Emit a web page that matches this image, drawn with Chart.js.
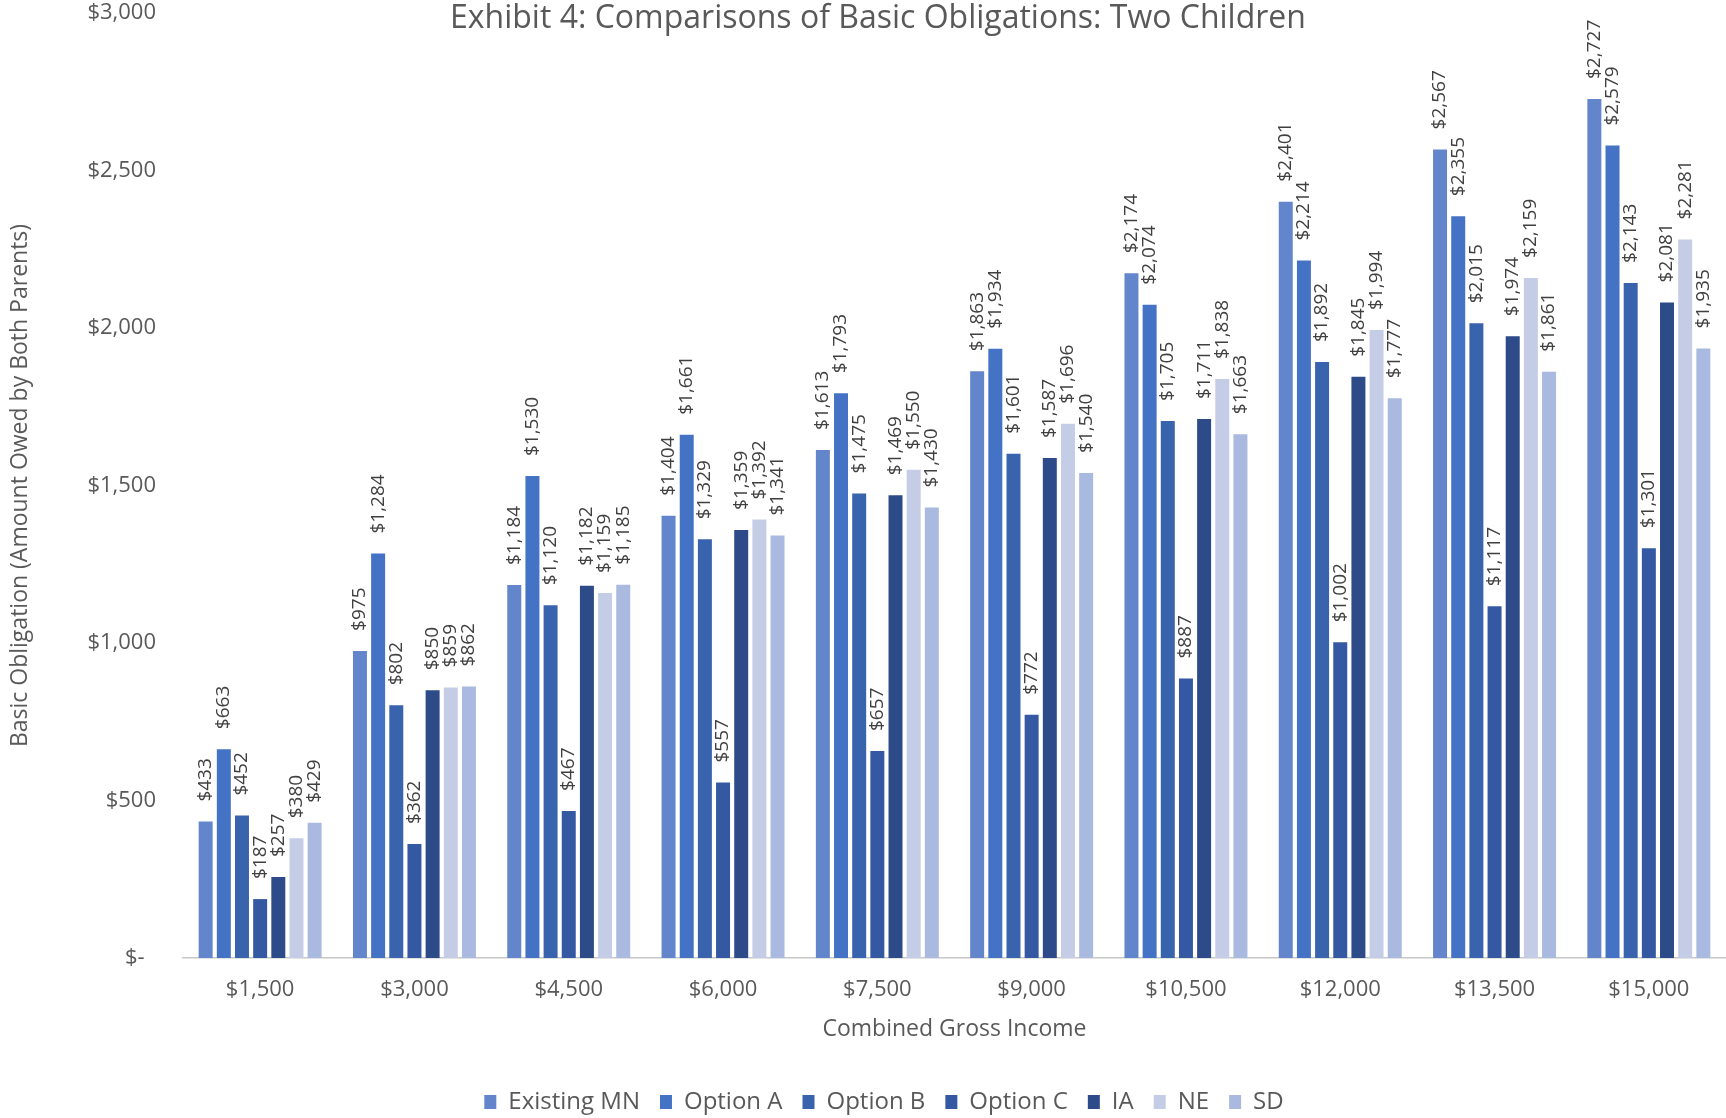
<!DOCTYPE html>
<html>
<head>
<meta charset="utf-8">
<script src="https://cdn.jsdelivr.net/npm/chart.js@4.4.1/dist/chart.umd.min.js"></script>
<style>
  html, body { margin: 0; padding: 0; background: #ffffff; }
  #wrap { width: 1726px; height: 1118px; position: relative; }
</style>
</head>
<body>
<div id="wrap"><canvas id="c" width="1726" height="1118"></canvas></div>
<script>
const chartTitle = 'Exhibit 4: Comparisons of Basic Obligations: Two Children';
const xAxisTitle = 'Combined Gross Income';
const yAxisTitle = 'Basic Obligation (Amount Owed by Both Parents)';
const categories = ['$1,500', '$3,000', '$4,500', '$6,000', '$7,500', '$9,000', '$10,500', '$12,000', '$13,500', '$15,000'];
const seriesNames = ['Existing MN', 'Option A', 'Option B', 'Option C', 'IA', 'NE', 'SD'];
const existingMN = [433, 975, 1184, 1404, 1613, 1863, 2174, 2401, 2567, 2727];
const optionA    = [663, 1284, 1530, 1661, 1793, 1934, 2074, 2214, 2355, 2579];
const optionB    = [452, 802, 1120, 1329, 1475, 1601, 1705, 1892, 2015, 2143];
const optionC    = [187, 362, 467, 557, 657, 772, 887, 1002, 1117, 1301];
const iaValues   = [257, 850, 1182, 1359, 1469, 1587, 1711, 1845, 1974, 2081];
const neValues   = [380, 859, 1159, 1392, 1550, 1696, 1838, 1994, 2159, 2281];
const sdValues   = [429, 862, 1185, 1341, 1430, 1540, 1663, 1777, 1861, 1935];
const yTickValues = [0, 500, 1000, 1500, 2000, 2500, 3000];

const seriesValues = [existingMN, optionA, optionB, optionC, iaValues, neValues, sdValues];
const seriesColors = ['#6385CB', '#4472C4', '#3A63AE', '#3459A2', '#2C4B88', '#C5CDE6', '#AAB9DF'];

function money(v) {
  if (v === 0) return '$-  ';
  return '$' + v.toLocaleString('en-US');
}

const SANS = '"Open Sans", Lato, sans-serif';
const TEXT = '#595959';

const barLabelPlugin = {
  id: 'barLabels',
  afterDatasetsDraw(chart) {
    const ctx = chart.ctx;
    ctx.save();
    ctx.font = '19px ' + SANS;
    ctx.fillStyle = '#404040';
    chart.data.datasets.forEach((ds, i) => {
      if (!chart.isDatasetVisible(i)) return;
      const meta = chart.getDatasetMeta(i);
      meta.data.forEach((bar, j) => {
        const txt = money(ds.data[j]);
        ctx.save();
        ctx.translate(bar.x, bar.y - 20);
        ctx.rotate(-Math.PI / 2);
        ctx.textAlign = 'left';
        ctx.textBaseline = 'middle';
        ctx.fillText(txt, 0, 0);
        ctx.restore();
      });
    });
    ctx.restore();
  }
};

const titlePlugin = {
  id: 'freeTitle',
  afterDraw(chart) {
    const ctx = chart.ctx;
    ctx.save();
    ctx.font = '32px ' + SANS;
    ctx.fillStyle = TEXT;
    ctx.textAlign = 'center';
    ctx.textBaseline = 'middle';
    ctx.fillText(chartTitle, 878, 19);
    ctx.restore();
  }
};

// nudge the legend block to the right, as in the reference
const legendShiftPlugin = {
  id: 'legendShift',
  afterLayout(chart) {
    if (chart.legend) {
      chart.legend.left += 21;
      chart.legend.right += 21;
    }
  }
};

const datasets = seriesNames.map((name, i) => ({
  label: name,
  data: seriesValues[i],
  backgroundColor: seriesColors[i],
  borderWidth: 0,
  barPercentage: 0.77,
  categoryPercentage: 0.824
}));

new Chart(document.getElementById('c'), {
  type: 'bar',
  data: { labels: categories, datasets },
  options: {
    responsive: false,
    animation: false,
    layout: { padding: { top: 13, right: 0, left: 0, bottom: -6 } },
    plugins: {
      legend: {
        position: 'bottom',
        labels: {
          color: TEXT,
          font: { family: SANS, size: 24 },
          boxWidth: 12,
          boxHeight: 14,
          padding: 20
        }
      },
      tooltip: { enabled: false },
      title: { display: false }
    },
    scales: {
      x: {
        afterFit(scale) { scale.height = 112; },
        grid: { display: false, drawTicks: false },
        border: { display: true, color: '#C8C8C8', width: 1.5 },
        ticks: { color: TEXT, font: { family: SANS, size: 22 }, padding: 19 },
        title: { display: true, text: xAxisTitle, color: TEXT, font: { family: SANS, size: 23 }, padding: { top: 0, bottom: 27 } }
      },
      y: {
        min: 0, max: 3000,
        afterBuildTicks(scale) { scale.ticks = yTickValues.map(v => ({ value: v })); },
        afterFit(scale) { scale.width = 183; scale.paddingTop = 0; scale.paddingBottom = 0; },
        grid: { display: false, drawTicks: false },
        border: { display: false },
        ticks: { color: TEXT, font: { family: SANS, size: 22 }, padding: 27, callback: (v) => money(v) },
        title: { display: true, text: yAxisTitle, color: TEXT, font: { family: SANS, size: 23 }, padding: { top: 7, bottom: 0 } }
      }
    }
  },
  plugins: [barLabelPlugin, titlePlugin, legendShiftPlugin]
});
</script>
</body>
</html>
